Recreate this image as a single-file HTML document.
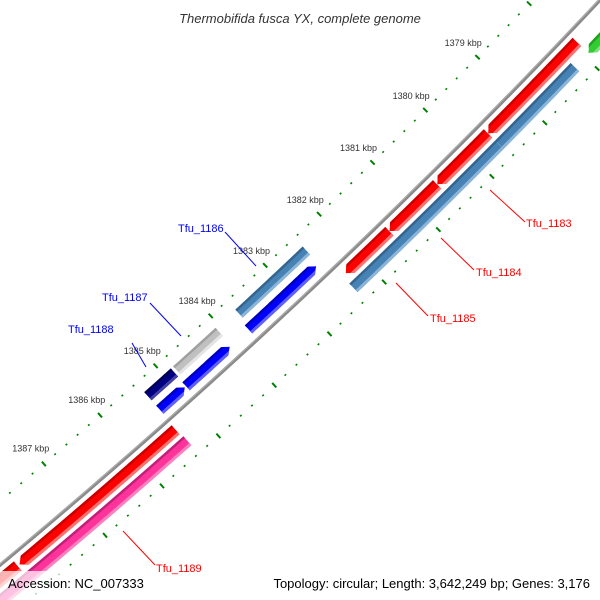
<!DOCTYPE html>
<html><head><meta charset="utf-8">
<style>
html,body{margin:0;padding:0;background:#fff;width:600px;height:600px;overflow:hidden;}
svg{display:block;font-family:"Liberation Sans",sans-serif;overflow:hidden;}
</style></head>
<body>
<svg id="map" width="600" height="600" viewBox="0 0 600 600" xmlns="http://www.w3.org/2000/svg">
  <rect width="600" height="600" fill="#fff"/>
  <g id="ticks"></g>
  <g id="feats"></g>
  <g id="backbone"></g>
  <g font-size="11">
    <line x1="490" y1="190" x2="525" y2="222" stroke="#ff0000" stroke-width="1"/>
    <text x="526" y="227" fill="#ff0000">Tfu_1183</text>
    <line x1="441" y1="238" x2="474" y2="270" stroke="#ff0000" stroke-width="1"/>
    <text x="476" y="276" fill="#ff0000">Tfu_1184</text>
    <line x1="396" y1="283" x2="428" y2="316" stroke="#ff0000" stroke-width="1"/>
    <text x="430" y="322" fill="#ff0000">Tfu_1185</text>
    <line x1="225" y1="232" x2="256" y2="266" stroke="#0000ff" stroke-width="1"/>
    <text x="178" y="232" fill="#0000ff">Tfu_1186</text>
    <line x1="150" y1="303" x2="181" y2="336" stroke="#0000ff" stroke-width="1"/>
    <text x="102" y="301" fill="#0000ff">Tfu_1187</text>
    <line x1="132" y1="343" x2="146" y2="367" stroke="#0000ff" stroke-width="1"/>
    <text x="68" y="333" fill="#0000ff">Tfu_1188</text>
    <line x1="123" y1="531" x2="155" y2="565" stroke="#ff0000" stroke-width="1"/>
    <text x="156" y="572" fill="#ff0000">Tfu_1189</text>
  </g>
  <text x="300" y="23" text-anchor="middle" font-size="13" font-style="italic" fill="#333">Thermobifida fusca YX, complete genome</text>
  <rect x="0" y="571" width="150" height="29" fill="#fff" fill-opacity="0.7"/>
  <text x="8" y="588" font-size="13" fill="#000">Accession: NC_007333</text>
  <text x="590" y="588" text-anchor="end" font-size="13" fill="#000">Topology: circular; Length: 3,642,249 bp; Genes: 3,176</text>
</svg>
<script>
// data (kbp)
const featStart = [1377.93, 1378.17, 1379.63, 1380.59, 1381.48, 1382.46, 1382.51, 1384.06, 1384.09, 1384.87, 1384.90, 1385.37, 1388.15, 1376.0, 1378.19, 1379.63, 1385.35];
const featEnd   = [1379.0,  1379.63, 1380.59, 1381.48, 1382.29, 1383.70, 1383.75, 1384.83, 1384.88, 1385.35, 1385.35, 1388.12, 1392.0, 1377.93, 1379.63, 1382.35, 1392.0];
const featRow   = ["C","C","C","C","C","A","B","A","B","A","B","C","C","D","D","D","D"];
const featDir   = [1,1,1,1,1,0,-1,0,-1,0,-1,1,1,1,0,0,0];
const featColor = ["red","red","red","red","red","steelblue","blue","lightgray","blue","navy","blue","red","red","green","steelblue","steelblue","pink"];
const featName  = ["feature-red-1","feature-red-2","feature-tfu-1183","feature-tfu-1184a","feature-tfu-1184b","feature-tfu-1186","feature-blue-1186","feature-tfu-1187","feature-blue-1187","feature-tfu-1188","feature-blue-1188","feature-tfu-1189","feature-red-next","feature-green","feature-steelblue-a","feature-tfu-1185","feature-pink-1189"];
const tickStartKbp = 1376;
const tickEndKbp = 1392;

const NS="http://www.w3.org/2000/svg";
const CX=-4317, CY=-4620;
function ang(k){return (44.29+(k-1379)*0.636)*Math.PI/180;}
function pt(k,r){const a=ang(k);return [CX+r*Math.cos(a),CY+r*Math.sin(a)];}
const rows={A:[6710,6721],B:[6728,6739],C:[6753,6765],D:[6769,6781]};
const pal={
 red:["#ff0000","#c80000","#ff7070"],
 steelblue:["#4682b4","#35658e","#8ab4d8"],
 blue:["#0000ff","#0000bb","#6060ff"],
 lightgray:["#c0c0c0","#a0a0a0","#e4e4e4"],
 navy:["#000080","#000050","#4040a8"],
 green:["#33cc33","#22a022","#80e080"],
 pink:["#ff3399","#c0207a","#ff80c0"]
};
function el(t,a){const e=document.createElementNS(NS,t);for(const k in a)e.setAttribute(k,a[k]);return e;}
function arcPts(k1,k2,r,n){const p=[];for(let i=0;i<=n;i++){p.push(pt(k1+(k2-k1)*i/n,r));}return p;}
function shape(k1,k2,r1,r2,dir){
  const h=0.09, rm=(r1+r2)/2;
  let a=k1,b=k2;
  if(dir>0)b=k2-h; if(dir<0)a=k1+h;
  let p=[];
  p=p.concat(arcPts(a,b,r1,20));
  if(dir>0)p.push(pt(k2,rm));
  p=p.concat(arcPts(b,a,r2,20));
  if(dir<0)p.push(pt(k1,rm));
  return p.map(q=>q[0].toFixed(2)+","+q[1].toFixed(2)).join(" ");
}
// backbone
const bb=document.getElementById("backbone");
const bpts=arcPts(1372,1394,6747,80).map(q=>q.join(",")).join(" ");
const bl=el("polyline",{points:bpts,fill:"none",stroke:"#8a8a8a","stroke-width":"3.5"});


bb.appendChild(bl);
const bl2=el("polyline",{points:arcPts(1372,1394,6746,80).map(q=>q.join(",")).join(" "),fill:"none",stroke:"#b0b0b0","stroke-width":"1"});


bb.appendChild(bl2);

// ticks
const tg=document.getElementById("ticks");
for(let i=Math.round(tickStartKbp*5);i<=Math.round(tickEndKbp*5);i++){
  const k=i/5, major=(i%5===0);
  [6698,6792].forEach((r,ri)=>{
    const len=major?3:0.8;
    const p1=pt(k,r-len),p2=pt(k,r+len);
    const ln=el("line",{x1:p1[0],y1:p1[1],x2:p2[0],y2:p2[1],stroke:"#008000","stroke-width":"2"});
    
    
    tg.appendChild(ln);
  });
  if(major){
    const p=pt(k,6678);
    const t=el("text",{x:p[0],y:p[1]+3,"text-anchor":"middle","font-size":"9",fill:"#333"});
    t.textContent=k+" kbp";
    
    
    tg.appendChild(t);
  }
}

// features
const fg=document.getElementById("feats");
const defs=el("defs",{});fg.appendChild(defs);
for(let i=0;i<featStart.length;i++){
  const [r1,r2]=rows[featRow[i]];
  const c=pal[featColor[i]];
  const pts=shape(featStart[i],featEnd[i],r1,r2,featDir[i]);
  const cp=el("clipPath",{id:"cp"+i});
  cp.appendChild(el("polygon",{points:pts}));
  defs.appendChild(cp);
  const g=el("g",{"clip-path":"url(#cp"+i+")"});
  
  
  g.appendChild(el("polygon",{points:pts,fill:c[0]}));
  const k1=featStart[i]-0.2,k2=featEnd[i]+0.2;
  g.appendChild(el("polygon",{points:shape(k1,k2,r1-2,r1+2.5,0),fill:c[1]}));
  g.appendChild(el("polygon",{points:shape(k1,k2,r2-3,r2+2,0),fill:c[2]}));
  fg.appendChild(g);
}
</script>
</body></html>
